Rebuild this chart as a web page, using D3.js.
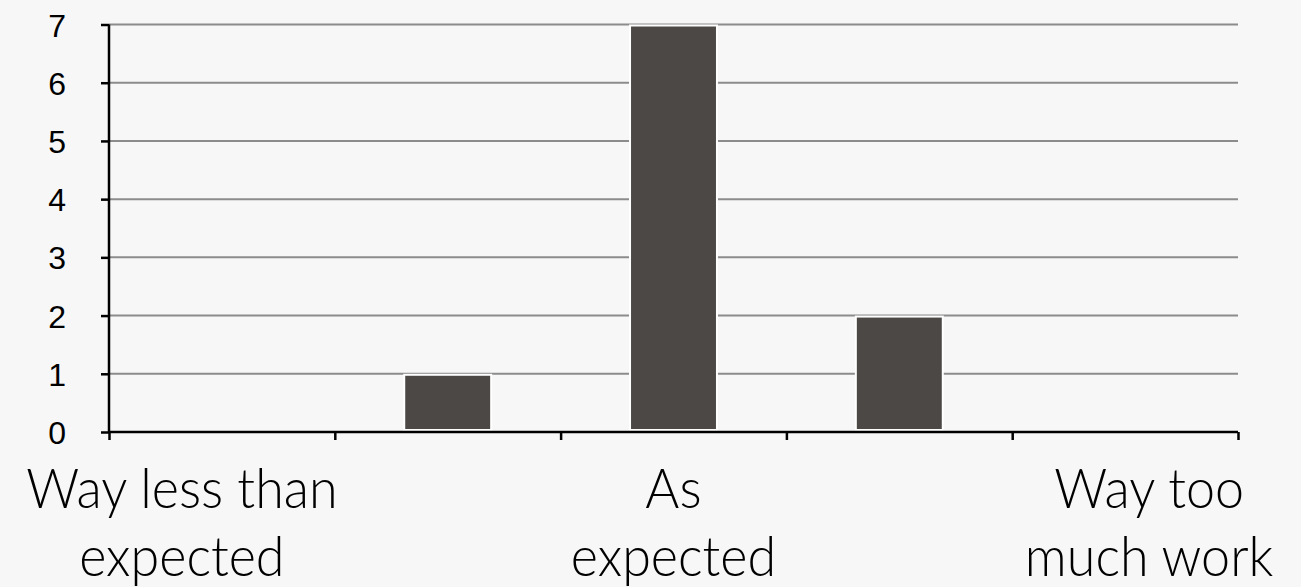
<!DOCTYPE html>
<html><head><meta charset="utf-8">
<script src="https://cdn.jsdelivr.net/npm/d3@7"></script>
<style>
html,body{margin:0;padding:0;background:#f7f7f7;}
svg{display:block;}
</style></head>
<body>
<svg id="chart" width="1301" height="587"></svg>
<script>
const categories = ["Way less than expected", "", "As expected", "", "Way too much work"];
const labelLines = [["Way less than", "expected"], [], ["As", "expected"], [], ["Way too", "much work"]];
const values = [0, 1, 7, 2, 0];
const yTicks = [0, 1, 2, 3, 4, 5, 6, 7];

(function () {
const W = 1301, H = 587;
const mLeft = 109, mRight = 1238, mTop = 24.5, mBottom = 432;
const labelShift = [-40, 0, 0, 0, 24];

const svg = d3.select("#chart");
svg.append("rect").attr("width", W).attr("height", H).attr("fill", "#f7f7f7");

const x = d3.scaleBand().domain(d3.range(categories.length)).range([mLeft, mRight]).padding(0);
const xEdge = d3.scaleLinear().domain([0, categories.length]).range([mLeft, mRight]);
const y = d3.scaleLinear().domain([0, 7]).range([mBottom, mTop]);

// gridlines
svg.append("g").selectAll("line").data(yTicks.filter(d => d > 0)).join("line")
  .attr("x1", mLeft).attr("x2", mRight)
  .attr("y1", d => y(d)).attr("y2", d => y(d))
  .attr("stroke", "#8c8c8c").attr("stroke-width", 2);

// bars
const barFrac = 0.385;
svg.append("g").selectAll("rect").data(values).join("rect")
  .attr("x", (d, i) => x(i) + x.bandwidth() * (1 - barFrac) / 2)
  .attr("width", x.bandwidth() * barFrac)
  .attr("y", d => y(d) + 1)
  .attr("height", d => Math.max(0, y(0) - y(d) - 3))
  .attr("fill", d => d > 0 ? "#4b4845" : "none")
  .attr("stroke", d => d > 0 ? "#ffffff" : "none")
  .attr("stroke-width", 2);

// y axis
const yAxis = svg.append("g").attr("transform", `translate(${mLeft},0)`)
  .call(d3.axisLeft(y).tickValues(yTicks).tickFormat(d3.format("d")).tickSize(8).tickPadding(35));
yAxis.select(".domain").attr("stroke", "#000").attr("stroke-width", 2.5).attr("d", `M0,${mTop}V${mBottom}`);
yAxis.selectAll(".tick line").attr("stroke", "#000").attr("stroke-width", 2.5);
yAxis.selectAll(".tick text").attr("font-family", "'Liberation Sans', Arial, sans-serif")
  .attr("font-size", 32).attr("fill", "#000").attr("dy", "0.36em");

// x axis
const xAxis = svg.append("g").attr("transform", `translate(0,${mBottom})`)
  .call(d3.axisBottom(xEdge).tickValues(d3.range(categories.length + 1)).tickFormat("").tickSize(8));
xAxis.select(".domain").attr("stroke", "#000").attr("stroke-width", 2.5).attr("d", `M${mLeft},0H${mRight}`);
xAxis.selectAll(".tick line").attr("stroke", "#000").attr("stroke-width", 2.5);

// category labels
const labG = svg.append("g").selectAll("g").data(labelLines).join("g")
  .attr("transform", (d, i) => `translate(${x(i) + x.bandwidth() / 2 + labelShift[i]},0) scale(0.93,1)`);
const lab = labG.append("text")
  .attr("x", 0)
  .attr("y", 508)
  .attr("text-anchor", "middle")
  .attr("font-family", "Lato, Roboto, sans-serif")
  .attr("font-weight", 300)
  .attr("font-size", 56)
  .attr("fill", "#000");
lab.selectAll("tspan").data(d => d).join("tspan")
  .attr("x", 0)
  .attr("dy", (d, j) => j === 0 ? 0 : 68)
  .text(d => d);
})();
</script>
</body></html>
